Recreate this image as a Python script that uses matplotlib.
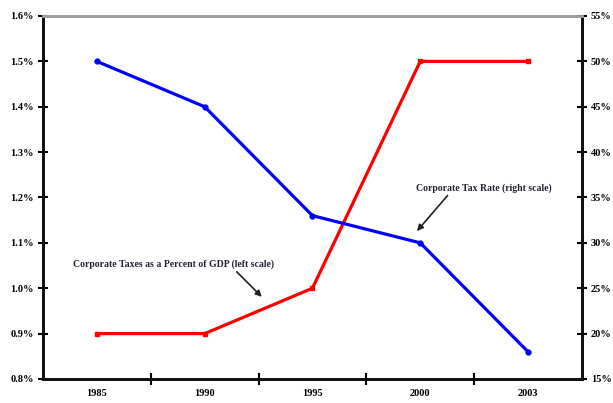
import numpy as np
import matplotlib.pyplot as plt
from matplotlib.ticker import FixedLocator, FuncFormatter

years = ["1985", "1990", "1995", "2000", "2003"]
taxes_pct_gdp = [0.9, 0.9, 1.0, 1.5, 1.5]   # left scale, percent
tax_rate = [50, 45, 33, 30, 18]              # right scale, percent

plt.rcParams["font.family"] = "Liberation Serif"
plt.rcParams["font.weight"] = "bold"

fig = plt.figure(figsize=(6.13, 4.03), dpi=100)
ax = fig.add_axes([0.0701, 0.0596, 0.8792, 0.9007])
ax2 = ax.twinx()

x = np.arange(len(years))
ax.plot(x, taxes_pct_gdp, color="#ff0000", lw=2.3, marker="s", ms=3.5, zorder=3)
ax2.plot(x, tax_rate, color="#0000ff", lw=2.3, marker="o", ms=3.5, zorder=3)

ax.set_xlim(-0.5, len(years) - 0.5)
ax.set_ylim(0.8, 1.6)
ax2.set_ylim(15, 55)

# category ticks sit between the years, labels at the centers
ax.xaxis.set_major_locator(FixedLocator(np.arange(0.5, len(years) - 0.5)))
ax.xaxis.set_minor_locator(FixedLocator(x))
ax.set_xticklabels([])
ax.set_xticklabels(years, minor=True)
ax.tick_params(axis="x", which="major", direction="inout", length=8, width=1.5)
ax.tick_params(axis="x", which="minor", length=0, pad=7, labelsize=7.5)

ax.set_yticks(np.arange(0.8, 1.61, 0.1))
ax.yaxis.set_major_formatter(FuncFormatter(lambda v, p: f"{v:.1f}%"))
ax.tick_params(axis="y", direction="inout", length=7, width=1.5, labelsize=7.5, pad=3)

ax2.set_yticks(np.arange(15, 56, 5))
ax2.yaxis.set_major_formatter(FuncFormatter(lambda v, p: f"{v:.0f}%"))
ax2.tick_params(axis="y", direction="inout", length=7, width=1.5, labelsize=7.5, pad=3)

for a in (ax, ax2):
    for side in ("left", "bottom", "right"):
        a.spines[side].set_linewidth(2)
        a.spines[side].set_color("#111111")
    a.spines["top"].set_color("#a0a0a0")
    a.spines["top"].set_linewidth(2)

ax.annotate("Corporate Taxes as a Percent of GDP (left scale)",
            xy=(1.53, 0.981), xytext=(-0.22, 1.053),
            fontsize=7, va="center", ha="left", color="#222233",
            arrowprops=dict(arrowstyle="-|>", color="#222222", lw=1.2,
                            mutation_scale=9, shrinkA=0, shrinkB=0,
                            relpos=(0.8, 0.0)))
ax2.annotate("Corporate Tax Rate (right scale)",
             xy=(2.97, 31.3), xytext=(3.59, 36.05),
             fontsize=7, va="center", ha="center", color="#222233",
             arrowprops=dict(arrowstyle="-|>", color="#222222", lw=1.2,
                             mutation_scale=9, shrinkA=0, shrinkB=0,
                             relpos=(0.25, 0.0)))

fig.savefig("out.png", dpi=100)
